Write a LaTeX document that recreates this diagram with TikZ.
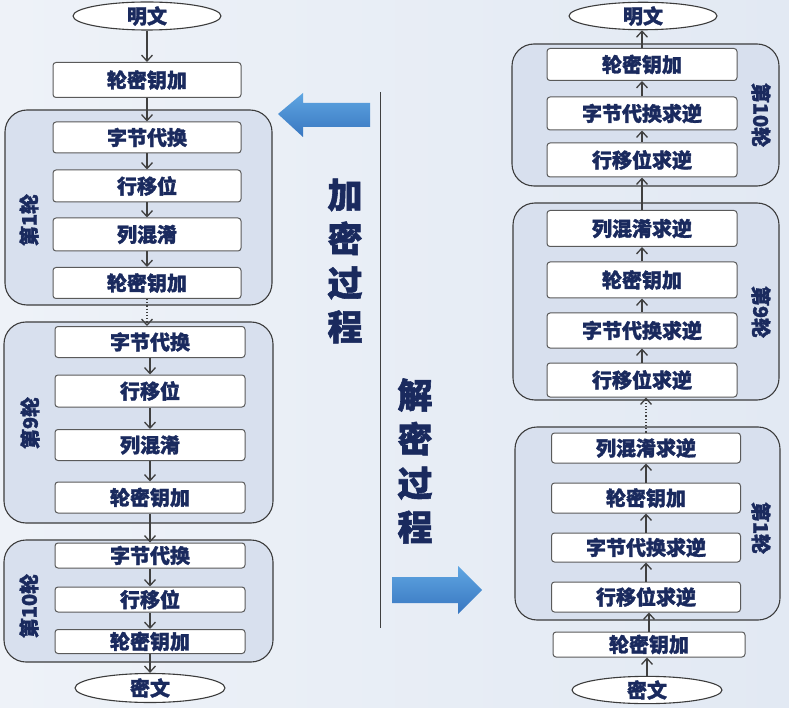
\documentclass[tikz,border=0pt]{standalone}
\usepackage{fontspec}
\setmainfont{Noto Sans CJK SC}[BoldFeatures={FakeBold=1.6}]
\usetikzlibrary{arrows.meta,shapes.geometric}
\definecolor{navy}{HTML}{1A2A5E}
\definecolor{bgA}{HTML}{EEF2F8}
\definecolor{bgB}{HTML}{E2E9F3}
\definecolor{grpfill}{HTML}{D8E0EE}
\definecolor{grpline}{HTML}{3C3C3C}
\definecolor{boxline}{HTML}{5A5A5A}
\definecolor{arrline}{HTML}{404040}
\definecolor{blueA}{HTML}{5FA6E2}
\definecolor{blueB}{HTML}{3876C0}
\begin{document}
\begin{tikzpicture}[x=1pt,y=-1pt,
  box/.style={draw=boxline,line width=1pt,fill=white,rounded corners=3pt,
    font=\fontsize{20}{20}\selectfont\bfseries,text=navy,inner sep=0pt},
  grp/.style={draw=grpline,line width=1.1pt,fill=grpfill,rounded corners=22pt,inner sep=0pt},
  ell/.style={ellipse,draw=grpline,line width=1.1pt,fill=white,inner sep=0pt,
    font=\fontsize{20}{20}\selectfont\bfseries,text=navy},
  lbl/.style={font=\fontsize{20}{20}\selectfont\bfseries,text=navy,inner sep=0pt},
  big/.style={font=\fontsize{35}{44}\selectfont\bfseries,text=navy,align=center,inner sep=0pt},
  arr/.style={draw=arrline,line width=1.2pt,-{Straight Barb[length=6pt,width=11pt,line width=1.3pt]}},
  darr/.style={arr,dotted}]
\useasboundingbox (0,0) rectangle (789,708);
\shade[left color=bgA,right color=bgB] (0,0) rectangle (789,708);

% ---------- left column (encryption) ----------
\node[grp,minimum width=267pt,minimum height=195pt] (g1) at (138.5,207.5) {};
\node[grp,minimum width=269pt,minimum height=201pt] (g9) at (138.5,422.5) {};
\node[grp,minimum width=269pt,minimum height=122pt] (g10) at (138.5,601) {};

\node[ell,minimum width=148pt,minimum height=28pt] (lpt) at (147,16) {明文};
\node[box,minimum width=188pt,minimum height=35pt] (lk0) at (147,80) {轮密钥加};
\node[box,minimum width=188pt,minimum height=31pt] (l1a) at (147,137.5) {字节代换};
\node[box,minimum width=188pt,minimum height=32pt] (l1b) at (147,186) {行移位};
\node[box,minimum width=188pt,minimum height=33pt] (l1c) at (147,234.5) {列混淆};
\node[box,minimum width=188pt,minimum height=31pt] (l1d) at (147,283) {轮密钥加};

\node[box,minimum width=190pt,minimum height=31pt] (l9a) at (150,342) {字节代换};
\node[box,minimum width=190pt,minimum height=32pt] (l9b) at (150,391) {行移位};
\node[box,minimum width=190pt,minimum height=31pt] (l9c) at (150,445) {列混淆};
\node[box,minimum width=190pt,minimum height=31pt] (l9d) at (150,497.5) {轮密钥加};

\node[box,minimum width=190pt,minimum height=25pt] (l10a) at (150,555.5) {字节代换};
\node[box,minimum width=190pt,minimum height=25pt] (l10b) at (150,599.5) {行移位};
\node[box,minimum width=190pt,minimum height=24pt] (l10c) at (150,641.5) {轮密钥加};
\node[ell,minimum width=150pt,minimum height=29pt] (lct) at (150,688) {密文};

\node[lbl,rotate=90] (lb1) at (29,220) {第1轮};
\node[lbl,rotate=90] (lb9) at (30,423) {第9轮};
\node[lbl,rotate=90] (lb10) at (29,606) {第10轮};

\draw[arr] (lpt.south) -- (lk0.north);
\draw[arr] (lk0.south) -- (l1a.north);
\draw[arr] (l1a.south) -- (l1b.north);
\draw[arr] (l1b.south) -- (l1c.north);
\draw[arr] (l1c.south) -- (l1d.north);
\draw[darr] (l1d.south) -- (l1d.south |- l9a.north);
\draw[arr] (l9a.south) -- (l9b.north);
\draw[arr] (l9b.south) -- (l9c.north);
\draw[arr] (l9c.south) -- (l9d.north);
\draw[arr] (l9d.south) -- (l10a.north);
\draw[arr] (l10a.south) -- (l10b.north);
\draw[arr] (l10b.south) -- (l10c.north);
\draw[arr] (l10c.south) -- (lct.north);

% ---------- middle ----------
\coordinate (vtop) at (380,92);
\coordinate (vbot) at (380,628);
\draw[draw=arrline,line width=1pt] (vtop) -- (vbot);
\shade[top color=blueA,bottom color=blueB]
  (278,114) -- (303,93) -- (303,103) -- (370,103) -- (370,127) -- (303,127) -- (303,137) -- cycle;
\shade[top color=blueA,bottom color=blueB]
  (482,590) -- (458,566) -- (458,577) -- (392,577) -- (392,603) -- (458,603) -- (458,614) -- cycle;
\node[big] (enc) at (345,261) {加\\密\\过\\程};
\node[big] (dec) at (415,461) {解\\密\\过\\程};

% ---------- right column (decryption) ----------
\node[grp,minimum width=267pt,minimum height=142pt] (h10) at (645.5,115) {};
\node[grp,minimum width=266pt,minimum height=197pt] (h9) at (646,301.5) {};
\node[grp,minimum width=265pt,minimum height=193pt] (h1) at (647.5,523.5) {};

\node[ell,minimum width=148pt,minimum height=27pt] (rpt) at (643,16) {明文};
\node[box,minimum width=190pt,minimum height=32pt] (r10a) at (642,64.5) {轮密钥加};
\node[box,minimum width=190pt,minimum height=33pt] (r10b) at (642,113.5) {字节代换求逆};
\node[box,minimum width=190pt,minimum height=34pt] (r10c) at (642,160) {行移位求逆};

\node[box,minimum width=190pt,minimum height=36pt] (r9a) at (642,228.5) {列混淆求逆};
\node[box,minimum width=190pt,minimum height=36pt] (r9b) at (642,280) {轮密钥加};
\node[box,minimum width=190pt,minimum height=35pt] (r9c) at (642,330.5) {字节代换求逆};
\node[box,minimum width=190pt,minimum height=34pt] (r9d) at (642,380) {行移位求逆};

\node[box,minimum width=189pt,minimum height=30pt] (r1a) at (646,448) {列混淆求逆};
\node[box,minimum width=189pt,minimum height=30pt] (r1b) at (646,498) {轮密钥加};
\node[box,minimum width=189pt,minimum height=29pt] (r1c) at (646,547.5) {字节代换求逆};
\node[box,minimum width=189pt,minimum height=30pt] (r1d) at (646,597) {行移位求逆};
\node[box,minimum width=192pt,minimum height=25pt] (rk0) at (649,644.5) {轮密钥加};
\node[ell,minimum width=150pt,minimum height=27pt] (rct) at (647,690) {密文};

\node[lbl,rotate=-90] (rb10) at (761,115) {第10轮};
\node[lbl,rotate=-90] (rb9) at (761,312) {第9轮};
\node[lbl,rotate=-90] (rb1) at (761,528) {第1轮};

\draw[arr] (rct.north) -- (rct.north |- rk0.south);
\draw[arr] (rk0.north) -- (rk0.north |- r1d.south);
\draw[arr] (r1d.north) -- (r1c.south);
\draw[arr] (r1c.north) -- (r1b.south);
\draw[arr] (r1b.north) -- (r1a.south);
\draw[darr] (r1a.north) -- (r1a.north |- r9d.south);
\draw[arr] (r9d.north) -- (r9c.south);
\draw[arr] (r9c.north) -- (r9b.south);
\draw[arr] (r9b.north) -- (r9a.south);
\draw[arr] (r9a.north) -- (r10c.south);
\draw[arr] (r10c.north) -- (r10b.south);
\draw[arr] (r10b.north) -- (r10a.south);
\draw[arr] (r10a.north) -- (r10a.north |- rpt.south);
\end{tikzpicture}
\end{document}
